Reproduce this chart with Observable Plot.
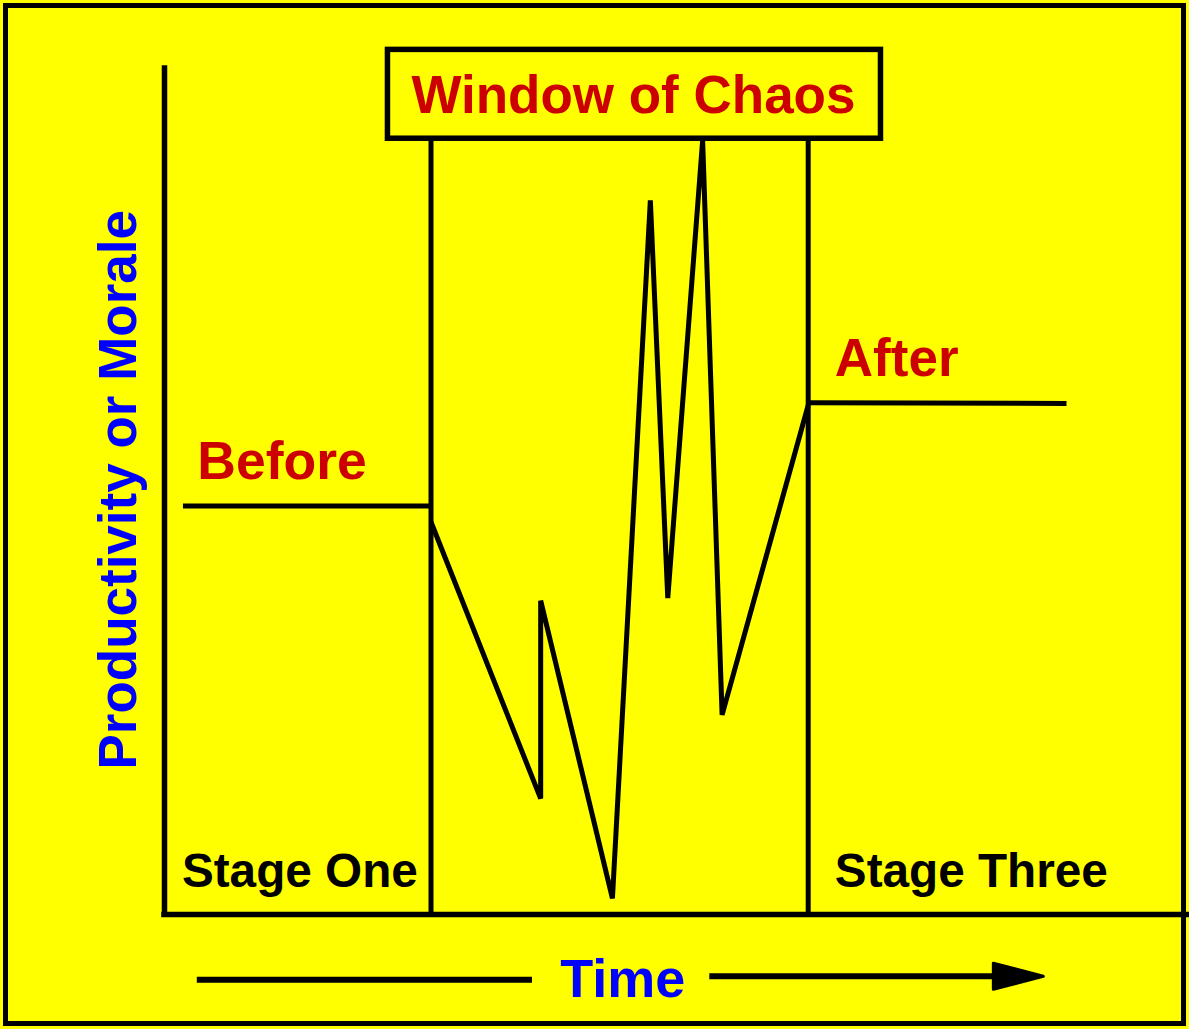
<!DOCTYPE html>
<html>
<head>
<meta charset="utf-8">
<script src="https://cdn.jsdelivr.net/npm/d3@7"></script>
<script src="https://cdn.jsdelivr.net/npm/@observablehq/plot@0.6"></script>
<style>
  html, body { margin: 0; padding: 0; background: #ffffff; overflow: hidden; }
  #chart svg { display: block; outline: 5px solid #000; outline-offset: -8px; }
</style>
</head>
<body>
<div id="chart"></div>
<script>
// ---- data (time units vs productivity units) ----
const beforeX = [1.8, 26];
const beforeY = [48.3, 48.3];
const chaosX = [26, 36.7, 36.7, 43.7, 47.4, 49.1, 52.5, 54.4, 62.8];
const chaosY = [46.4, 13.7, 37.1, 1.9, 84.4, 37.4, 91.5, 23.6, 60.2];
const afterX = [62.8, 88];
const afterY = [60.5, 60.4];
const stageBounds = [26, 62.8];
const windowTop = 91.7;

// annotation labels
const titleLabel = "Window of Chaos";
const beforeLabel = "Before";
const afterLabel = "After";
const stageLabels = ["Stage One", "Stage Three"];
const xLabel = "Time";
const yLabel = "Productivity or Morale";

const series = [
  ...beforeX.map((x, i) => ({phase: "before", x, y: beforeY[i]})),
  ...chaosX.map((x, i) => ({phase: "chaos", x, y: chaosY[i]})),
  ...afterX.map((x, i) => ({phase: "after", x, y: afterY[i]}))
];

const FONT = "'Liberation Sans', Arial, Helvetica, sans-serif";
const RED = "#cc0000";
const BLUE = "#0000ff";

const arrowHead = {
  draw(context, size) {
    const r = Math.sqrt(size / Math.PI);
    context.moveTo(r, 0);
    context.lineTo(-r, -r * 0.52);
    context.lineTo(-r, r * 0.52);
    context.closePath();
  }
};

const chart = Plot.plot({
  width: 1189,
  height: 1029,
  marginLeft: 164,
  marginRight: 0,
  marginTop: 68,
  marginBottom: 115,
  style: {background: "#ffff00", overflow: "visible"},
  x: {domain: [0, 100], axis: null},
  y: {domain: [0, 100], axis: null},
  marks: [
    // axes
    Plot.ruleX([0], {y1: 0, y2: 100, stroke: "#000", strokeWidth: 5.5, strokeLinecap: "square"}),
    Plot.ruleY([0], {x1: 0, x2: 100, stroke: "#000", strokeWidth: 5.5, strokeLinecap: "square"}),
    // stage boundaries
    Plot.ruleX(stageBounds, {y1: 0, y2: windowTop, stroke: "#000", strokeWidth: 5}),
    // window box
    Plot.rect([{x1: 21.8, x2: 69.9, y1: windowTop, y2: 102.2}], {
      x1: "x1", x2: "x2", y1: "y1", y2: "y2", fill: "#ffff00", stroke: "#000", strokeWidth: 5.5
    }),
    Plot.text([titleLabel], {x: 45.75, y: 94.7, text: d => d, fill: RED, fontSize: 53, fontWeight: "bold", fontFamily: FONT, textAnchor: "middle", lineAnchor: "bottom"}),
    // productivity line
    Plot.line(series, {x: "x", y: "y", z: "phase", stroke: "#000", strokeWidth: 5, strokeLinejoin: "miter", strokeLinecap: "butt"}),
    // labels
    Plot.text([beforeLabel], {x: 3.2, y: 51.5, text: d => d, fill: RED, fontSize: 53.5, fontWeight: "bold", fontFamily: FONT, textAnchor: "start", lineAnchor: "bottom"}),
    Plot.text([afterLabel], {x: 65.4, y: 63.7, text: d => d, fill: RED, fontSize: 53, fontWeight: "bold", fontFamily: FONT, textAnchor: "start", lineAnchor: "bottom"}),
    Plot.text(stageLabels, {x: [1.7, 65.4], y: [3.2, 3.2], text: d => d, fill: "#000", fontSize: 47.7, fontWeight: "bold", fontFamily: FONT, textAnchor: "start", lineAnchor: "bottom"}),
    // x label with arrow
    Plot.text([xLabel], {x: 44.7, y: -9.8, text: d => d, fill: BLUE, fontSize: 54, fontWeight: "bold", fontFamily: FONT, textAnchor: "middle", lineAnchor: "bottom"}),
    Plot.ruleY([-7.7], {x1: 3.2, x2: 35.9, stroke: "#000", strokeWidth: 6}),
    Plot.ruleY([-7.3], {x1: 53.2, x2: 81.5, stroke: "#000", strokeWidth: 6}),
    Plot.dot([0], {x: 83.3, y: -7.3, r: 25, symbol: arrowHead, fill: "#000", stroke: "#000", strokeWidth: 3, strokeLinejoin: "round"}),
    // y label
    Plot.text([yLabel], {x: -2.8, y: 50.2, text: d => d, rotate: -90, fill: BLUE, fontSize: 53, fontWeight: "bold", fontFamily: FONT, textAnchor: "middle", lineAnchor: "bottom"})
  ]
});
document.getElementById("chart").appendChild(chart);
</script>
</body>
</html>
